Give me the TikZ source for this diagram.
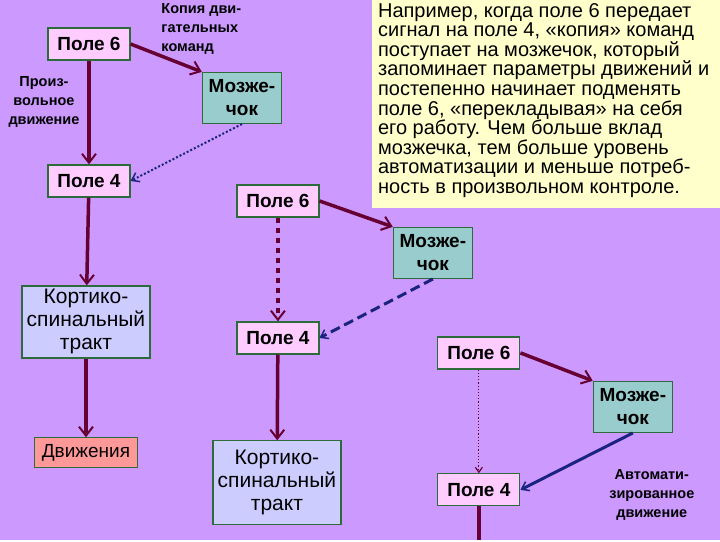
\documentclass[tikz,border=0pt]{standalone}
\usepackage{fontspec}
\setmainfont{Liberation Sans}
\usetikzlibrary{arrows.meta}
\definecolor{bg}{HTML}{CC99FF}
\definecolor{pinkb}{HTML}{FFCCFF}
\definecolor{tealb}{HTML}{99CCCC}
\definecolor{lavb}{HTML}{CCCCFF}
\definecolor{salb}{HTML}{FF9999}
\definecolor{maroon}{HTML}{660033}
\definecolor{navyb}{HTML}{1A237E}
\definecolor{yelb}{HTML}{FFFFCC}
\definecolor{bord}{HTML}{2E6B3A}
\begin{document}
\begin{tikzpicture}[x=1pt,y=-1pt,
 box/.style={draw=bord,line width=1.2pt,inner sep=0pt,align=center},
 pole/.style={box,fill=pinkb,minimum width=82pt,minimum height=32pt,font=\bfseries\fontsize{19}{21}\selectfont},
 mozg/.style={box,fill=tealb,minimum width=79pt,minimum height=51pt,font=\bfseries\fontsize{19}{23}\selectfont},
 kort/.style={box,fill=lavb,minimum width=128pt,minimum height=72pt,font=\fontsize{21}{23}\selectfont},
 lbl/.style={font=\bfseries\fontsize{14.5}{19}\selectfont,align=center},
 thick arr/.style={draw=maroon,line width=3.5pt,-{Straight Barb[length=9pt,width=14pt,line width=2pt]}},
 blue arr/.style={draw=navyb,-{Straight Barb[length=7pt,width=10pt,line width=1.5pt]}}]
\fill[bg] (0,0) rectangle (720,540);
\node[fill=yelb,inner sep=0pt,minimum width=348pt,minimum height=208pt,anchor=north west] (txtbox) at (372,0) {};
\node[anchor=north west,align=left,font=\fontsize{20}{19.6}\selectfont,inner sep=0pt] (txt) at (378,3)
 {Например, когда поле 6 передает\\сигнал на поле 4, «копия» команд\\поступает на мозжечок, который\\запоминает параметры движений и\\постепенно начинает подменять\\поле 6, «перекладывая» на себя\\его работу. Чем больше вклад\\мозжечка, тем больше уровень\\автоматизации и меньше потреб-\\ность в произвольном контроле.};
\node[pole] (p6a) at (89,44) {Поле 6};
\node[mozg] (m1) at (242,98) {Мозже-\\чок};
\node[pole] (p4a) at (89,181) {Поле 4};
\node[pole] (p6b) at (278,201) {Поле 6};
\node[mozg] (m2) at (433,253) {Мозже-\\чок};
\node[pole] (p4b) at (278,338) {Поле 4};
\node[pole] (p6c) at (479,353) {Поле 6};
\node[mozg] (m3) at (633,407) {Мозже-\\чок};
\node[pole] (p4c) at (479,490) {Поле 4};
\node[kort] (ka) at (86,322) {Кортико-\\спинальный\\тракт};
\node[box,fill=salb,minimum width=103pt,minimum height=30pt,font=\fontsize{19}{21}\selectfont] (dv) at (86,453) {Движения};
\node[kort,minimum height=84pt] (kb) at (277,483) {Кортико-\\спинальный\\тракт};
\node[lbl,align=left,anchor=north west] (l1) at (158,0) {Копия дви-\\гательных\\команд};
\node[lbl] (l2) at (44,102) {Произ-\\вольное\\движение};
\node[lbl] (l3) at (652,495) {Автомати-\\зированное\\движение};
\coordinate (endc) at (479,540);
\draw[thick arr] (p6a) -- (p4a);
\draw[thick arr] (p6a.east) -- (m1.north west);
\draw[blue arr,line width=2pt,dotted] (m1.south) -- (p4a.east);
\draw[thick arr] (p4a) -- (ka);
\draw[thick arr] (ka) -- (dv);
\draw[thick arr,dash pattern=on 5pt off 5pt] (p6b) -- (p4b);
\draw[thick arr] (p6b.east) -- (m2.north west);
\draw[blue arr,line width=3pt,dash pattern=on 10pt off 5pt] (m2.south) -- (p4b.east);
\draw[thick arr] (p4b) -- (kb);
\draw[draw=maroon,line width=1.2pt,dotted,-{Straight Barb[length=5pt,width=7pt]}] (p6c) -- (p4c);
\draw[thick arr] (p6c.east) -- (m3.north west);
\draw[blue arr,line width=3pt] (m3.south) -- (p4c.east);
\draw[draw=maroon,line width=3.5pt] (p4c) -- (endc);
\end{tikzpicture}
\end{document}
